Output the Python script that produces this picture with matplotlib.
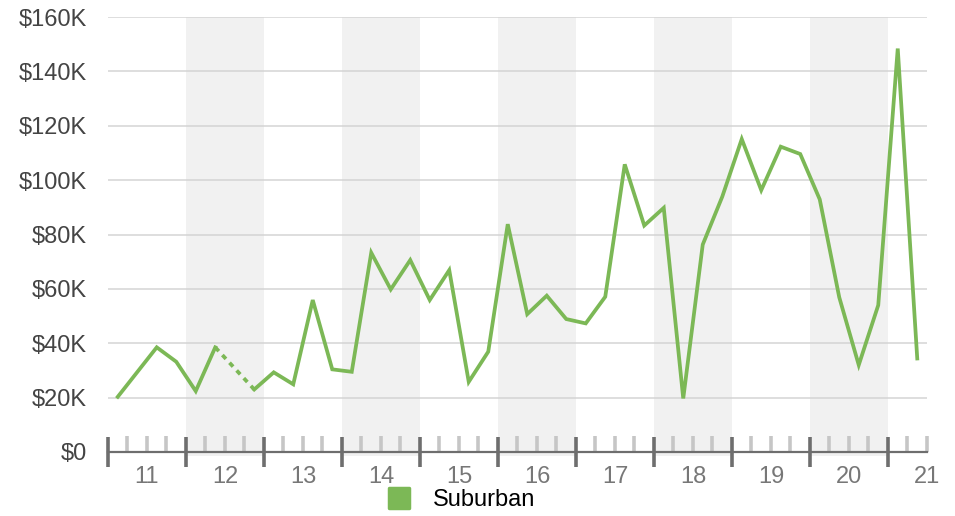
import numpy as np
import matplotlib.pyplot as plt
import matplotlib.transforms as mtransforms
from matplotlib.lines import Line2D
from matplotlib.markers import MarkerStyle
from matplotlib.ticker import FixedLocator, FuncFormatter

plt.rcParams['font.family'] = ['Liberation Sans', 'DejaVu Sans']

# quarterly values in $K, starting 2011 Q1 (None = no data that quarter)
first_year = 2011
suburban = [
    20.3, 29.4, 38.5, 33.2,    # 2011
    22.4, 38.5, None, 23.0,    # 2012
    29.3, 24.9, 55.9, 30.4,    # 2013
    29.5, 73.3, 59.8, 70.6,    # 2014
    55.9, 66.9, 25.8, 36.9,    # 2015
    83.8, 50.7, 57.5, 48.9,    # 2016
    47.3, 57.1, 105.8, 83.3,   # 2017
    89.8, 19.7, 76.3, 93.9,    # 2018
    115.1, 96.3, 112.3, 109.6, # 2019
    92.9, 56.9, 32.0, 54.0,    # 2020
    148.4, 34.4,               # 2021
]
year_labels = ['11', '12', '13', '14', '15', '16', '17', '18', '19', '20', '21']
shaded_years = [2012, 2014, 2016, 2018, 2020]
y_ticks = [0, 20, 40, 60, 80, 100, 120, 140, 160]

green = '#7cb856'
vals = np.array([np.nan if v is None else v for v in suburban], dtype=float)
xq = first_year + (np.arange(len(vals)) + 0.5) / 4.0
x_end = first_year + len(year_labels) - 0.5

fig = plt.figure(figsize=(9.55, 5.16), dpi=100)
ax = fig.add_axes([108 / 955, 64 / 516, 819 / 955, 435 / 516])
ax.set_xlim(first_year, x_end)
ax.set_ylim(0, 160)

# alternating year bands
for yr in shaded_years:
    ax.axvspan(yr, yr + 1, ymin=-0.009, ymax=1, color='#f1f1f1', lw=0,
               zorder=0.2, clip_on=False)

ax.set_axisbelow(True)
ax.yaxis.grid(True, color='#d4d4d4', lw=1.1)
ax.set_yticks(y_ticks)
ax.yaxis.set_major_formatter(FuncFormatter(lambda v, p: '$0' if v == 0 else f'${int(v)}K'))
ax.tick_params(axis='y', length=0, pad=15, labelsize=17, labelcolor='#444444')

# year boundaries as major ticks, quarter boundaries as minor ticks
years = np.arange(first_year, first_year + len(year_labels))
quarters = np.arange(first_year, x_end + 0.01, 0.25)
ax.xaxis.set_major_locator(FixedLocator(years))
ax.xaxis.set_minor_locator(FixedLocator([q for q in quarters if q % 1 != 0]))
ax.set_xticklabels([])
ax.tick_params(axis='x', which='major', direction='inout', length=22, width=2.6,
               color='#6e6e6e')
ax.tick_params(axis='x', which='minor', direction='in', length=11.5, width=2.6,
               color='#c6c6c6')

trans = mtransforms.blended_transform_factory(ax.transData, ax.transAxes)
for yr, lab in zip(years, year_labels):
    ax.text(yr + 0.5, -0.058, lab, transform=trans, ha='center', va='center',
            fontsize=17, color='#777777', clip_on=False)

for side in ['left', 'right', 'top']:
    ax.spines[side].set_visible(False)
ax.spines['bottom'].set_color('#6e6e6e')
ax.spines['bottom'].set_linewidth(1.6)

# solid line, with a dotted bridge across missing quarters
ax.plot(xq, vals, color=green, lw=2.7, solid_joinstyle='miter', zorder=3)
for i in np.where(np.isnan(vals))[0]:
    ax.plot([xq[i - 1], xq[i + 1]], [vals[i - 1], vals[i + 1]], color=green,
            lw=2.7, linestyle=(0, (1.4, 1.4)), dash_capstyle='butt', zorder=3)

handle = Line2D([], [], marker=MarkerStyle('s', joinstyle='round'), ls='',
                ms=14, mfc=green, mec=green, mew=2.5)
fig.legend(handles=[handle], labels=['Suburban'], loc='center',
           bbox_to_anchor=(0.483, 0.031), frameon=False, fontsize=17,
           handlelength=1.0, handletextpad=0.9, borderpad=0)

fig.savefig('out.png', dpi=100)
